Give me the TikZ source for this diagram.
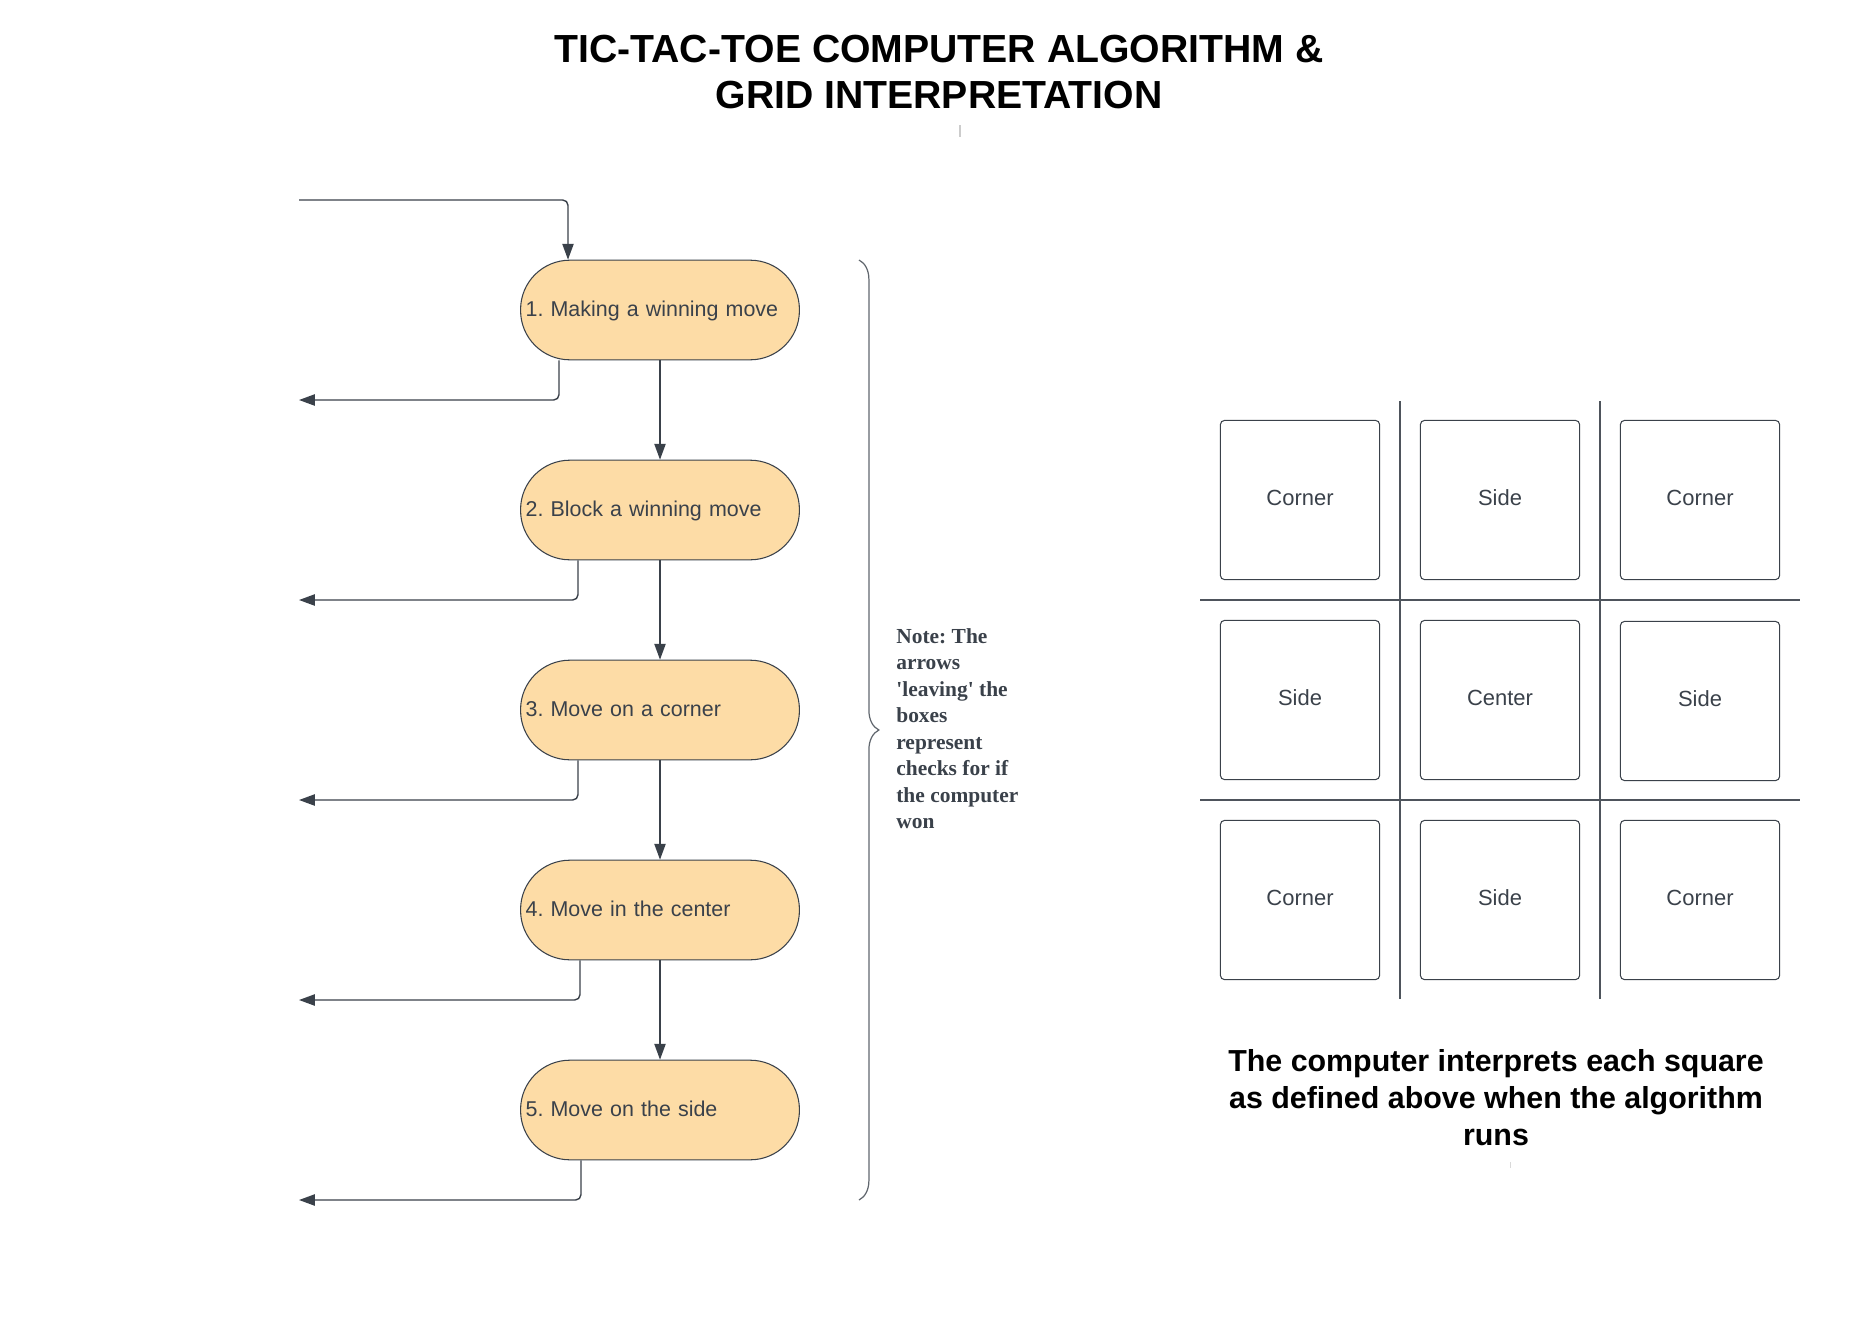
\documentclass[tikz,border=0pt]{standalone}
\usepackage{fontspec}
\setmainfont{Liberation Sans}
\newfontfamily\notefont{Liberation Serif}
\usetikzlibrary{positioning}
\usetikzlibrary{arrows.meta}
\usetikzlibrary{calc}
\usetikzlibrary{decorations.pathreplacing}
\definecolor{ink}{HTML}{3A414A}
\definecolor{peach}{HTML}{FDDCA6}
\tikzset{
    stepnode/.style = {rectangle, rounded corners=28pt, draw=ink, line width=0.6pt, fill=peach, minimum width=158.7pt, minimum height=56.7pt, text width=153pt, inner xsep=2.85pt, inner ysep=0pt, text depth=0.15em, align=left, text=ink, font=\fontsize{12.2}{15}\selectfont},
    cellnode/.style = {rectangle, rounded corners=2.5pt, draw=ink, line width=0.6pt, minimum size=90.7pt, text depth=0.3em, text=ink, font=\fontsize{12.5}{15}\selectfont},
    edgen/.style = {-{Triangle[length=9pt,width=6.4pt]}, draw=ink, line width=0.8pt},
    edgeo/.style = {edgen, rounded corners=3pt}, % leaving the boxes
    gridline/.style = {draw=ink!90, line width=0.7pt},
    bracen/.style = {draw=ink!80, line width=0.7pt, decorate, decoration={brace, amplitude=11.3pt}}
}
\frenchspacing

\begin{document}
\begin{tikzpicture}[x=0.02cm, y=-0.02cm]
  \useasboundingbox (0,0) rectangle (1870,1322);

  \node[font=\bfseries\fontsize{22.3}{26.1}\selectfont, align=center] (title) at (939,72) {TIC-TAC-TOE COMPUTER ALGORITHM \&\\GRID INTERPRETATION};
  \draw[gray!40, line width=0.6pt] (960,125) -- (960,137);

  % algorithm
  \node[stepnode] (s1) at (660,310) {1. Making a winning move};
  \node[stepnode] (s2) at (660,510) {2. Block a winning move};
  \node[stepnode] (s3) at (660,710) {3. Move on a corner};
  \node[stepnode] (s4) at (660,910) {4. Move in the center};
  \node[stepnode] (s5) at (660,1110) {5. Move on the side};

  \coordinate (entry) at (299,200);
  \coordinate (out1) at (299,400);
  \coordinate (out2) at (299,600);
  \coordinate (out3) at (299,800);
  \coordinate (out4) at (299,1000);
  \coordinate (out5) at (299,1200);

  \draw[edgeo] (entry) -| ($(s1.north)+(-92,0)$);
  \draw[edgen] (s1) -- (s2);
  \draw[edgen] (s2) -- (s3);
  \draw[edgen] (s3) -- (s4);
  \draw[edgen] (s4) -- (s5);

  \draw[edgeo] ($(s1.south)+(-101,0)$) |- (out1);
  \draw[edgeo] ($(s2.south)+(-82,0)$) |- (out2);
  \draw[edgeo] ($(s3.south)+(-82,0)$) |- (out3);
  \draw[edgeo] ($(s4.south)+(-80,0)$) |- (out4);
  \draw[edgeo] ($(s5.south)+(-79,0)$) |- (out5);

  % note
  \coordinate (btop) at (859,260);
  \coordinate (bbot) at (859,1200);
  \draw[bracen] (btop) -- (bbot);
  \node[anchor=north west, inner sep=0pt, align=left, text=ink, font=\notefont\bfseries\fontsize{12.2}{15.1}\selectfont] (note) at (896,628) {Note: The\\arrows\\\textquotesingle leaving\textquotesingle{} the\\boxes\\represent\\checks for if\\the computer\\won};

  % grid
  \draw[gridline] (1400,401) -- (1400,999);
  \draw[gridline] (1600,401) -- (1600,999);
  \draw[gridline] (1200,600) -- (1800,600);
  \draw[gridline] (1200,800) -- (1800,800);

  \node[cellnode] (c11) at (1300,500) {Corner};
  \node[cellnode] (c12) at (1500,500) {Side};
  \node[cellnode] (c13) at (1700,500) {Corner};
  \node[cellnode] (c21) at (1300,700) {Side};
  \node[cellnode] (c22) at (1500,700) {Center};
  \node[cellnode] (c23) at (1700,701) {Side};
  \node[cellnode] (c31) at (1300,900) {Corner};
  \node[cellnode] (c32) at (1500,900) {Side};
  \node[cellnode] (c33) at (1700,900) {Corner};

  \node[font=\bfseries\fontsize{17.3}{21}\selectfont, align=center] (caption) at (1496,1098) {The computer interprets each square\\as defined above when the algorithm\\runs};
  \draw[gray!30, line width=0.5pt] (1510,1162) -- (1510,1168);
\end{tikzpicture}
\end{document}
